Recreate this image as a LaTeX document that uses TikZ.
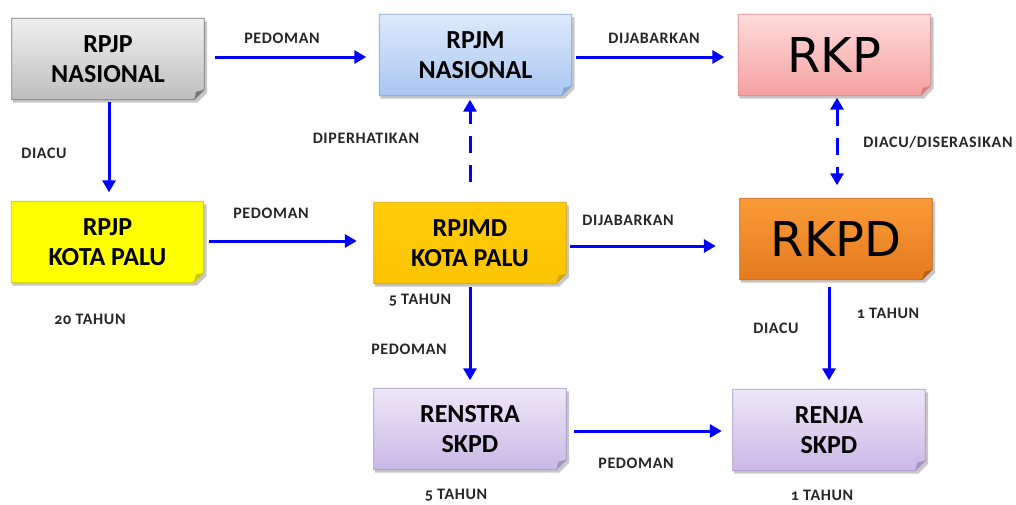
\documentclass[tikz,border=0pt]{standalone}
\usepackage{fontspec}
\setmainfont{Carlito}[Numbers=OldStyle]
\newfontfamily\bigfont{DejaVu Sans}
\usetikzlibrary{arrows.meta,backgrounds}
\definecolor{grayT}{RGB}{240,240,240}
\definecolor{grayB}{RGB}{190,190,190}
\definecolor{grayD}{RGB}{120,120,120}
\definecolor{blueT}{RGB}{222,234,252}
\definecolor{blueB}{RGB}{168,198,240}
\definecolor{blueD}{RGB}{130,165,215}
\definecolor{pinkT}{RGB}{255,220,220}
\definecolor{pinkB}{RGB}{245,160,160}
\definecolor{pinkD}{RGB}{215,130,130}
\definecolor{yelD}{RGB}{200,200,0}
\definecolor{goldT}{RGB}{255,204,10}
\definecolor{goldB}{RGB}{252,196,0}
\definecolor{goldD}{RGB}{215,165,0}
\definecolor{oraT}{RGB}{250,155,55}
\definecolor{oraB}{RGB}{228,122,30}
\definecolor{oraD}{RGB}{190,95,20}
\definecolor{purT}{RGB}{238,231,248}
\definecolor{purB}{RGB}{202,184,230}
\definecolor{purD}{RGB}{165,145,200}
\tikzset{
  boxtext/.style={minimum width=192pt,minimum height=81pt,inner sep=0pt,align=center,
    font=\fontsize{26}{30}\selectfont\bfseries},
  bigtext/.style={minimum width=192pt,minimum height=81pt,inner sep=0pt,align=center,
    font=\bigfont\fontsize{48}{55}\selectfont},
  lbl/.style={font=\addfontfeatures{LetterSpace=4}\fontsize{16}{18}\selectfont\bfseries,text=black!85,inner sep=0pt},
  arr/.style={draw=blue,line width=3pt,-{Triangle[length=12pt,width=13pt]}},
  darr/.style={arr,dash pattern=on 17pt off 12pt}
}
\newcommand\notebox[4]{%
  \begin{pgfonlayer}{background}
  \fill[black,opacity=0.22] ([shift={(1pt,-3pt)}]#1.north west) -- ([shift={(3pt,-3pt)}]#1.north east)
     -- ([shift={(3pt,7pt)}]#1.south east) -- ([shift={(-7pt,-3pt)}]#1.south east)
     -- ([shift={(1pt,-3pt)}]#1.south west) -- cycle;
  \shade[top color=#2,bottom color=#3] (#1.north west) -- (#1.north east)
     -- ([yshift=10pt]#1.south east) -- ([xshift=-10pt]#1.south east) -- (#1.south west) -- cycle;
  \draw[#4,line width=0.8pt] (#1.north west) -- (#1.north east)
     -- ([yshift=10pt]#1.south east) -- ([xshift=-10pt]#1.south east) -- (#1.south west) -- cycle;
  \fill[#4] ([yshift=10pt]#1.south east) -- ([xshift=-10pt]#1.south east) -- ([shift={(-8pt,8pt)}]#1.south east) -- cycle;
  \end{pgfonlayer}}
\begin{document}
\begin{tikzpicture}[x=1pt,y=-1pt]
\useasboundingbox (0,0) rectangle (1016,504);
% boxes
\node[boxtext] (rpjpn) at (108,59) {RPJP\\NASIONAL};
\node[boxtext] (rpjmn) at (475.5,55) {RPJM\\NASIONAL};
\node[bigtext] (rkp) at (834.5,55) {RKP};
\node[boxtext] (rpjpk) at (107.5,242) {RPJP\\KOTA PALU};
\node[boxtext] (rpjmd) at (470,243) {RPJMD\\KOTA PALU};
\node[bigtext] (rkpd) at (836,239) {RKPD};
\node[boxtext] (renstra) at (470,429) {RENSTRA\\SKPD};
\node[boxtext] (renja) at (829,430) {RENJA\\SKPD};
\notebox{rpjpn}{grayT}{grayB}{grayD}
\notebox{rpjmn}{blueT}{blueB}{blueD}
\notebox{rkp}{pinkT}{pinkB}{pinkD}
\notebox{rpjpk}{yellow}{yellow}{yelD}
\notebox{rpjmd}{goldT}{goldB}{goldD}
\notebox{rkpd}{oraT}{oraB}{oraD}
\notebox{renstra}{purT}{purB}{purD}
\notebox{renja}{purT}{purB}{purD}
% arrows
\draw[arr,shorten <=11pt,shorten >=13pt] ([yshift=2pt]rpjpn.east) -- ([yshift=-2pt]rpjmn.west);
\draw[arr,shorten <=4pt,shorten >=14pt] ([yshift=-2pt]rpjmn.east) -- ([yshift=-2pt]rkp.west);
\draw[arr,shorten <=2pt,shorten >=9pt] ([xshift=1pt]rpjpn.south) -- ([xshift=1.5pt]rpjpk.north);
\draw[arr,shorten <=5pt,shorten >=17pt] ([yshift=1pt]rpjpk.east) -- ([yshift=2pt]rpjmd.west);
\draw[darr,shorten <=20pt,shorten >=4pt] (rpjmd.north) -- (rpjmd.north |- rpjmn.south);
\draw[arr,shorten <=4pt,shorten >=24pt] ([yshift=-3pt]rpjmd.east) -- ([yshift=-7pt]rkpd.west);
\draw[darr,{Triangle[length=12pt,width=13pt]}-{Triangle[length=12pt,width=13pt]},shorten <=2pt,shorten >=13pt] ([xshift=2.5pt]rkp.south) -- ([xshift=1pt]rkpd.north);
\draw[arr,shorten <=7pt,shorten >=9pt] (renja.north |- rkpd.south) -- (renja.north);
\draw[arr,shorten <=3pt,shorten >=8pt] (rpjmd.south) -- (renstra.north);
\draw[arr,shorten <=8pt,shorten >=11pt] ([yshift=-2pt]renstra.east) -- ([yshift=-1pt]renja.west);
% labels
\node[lbl] (l1) at (282,38) {PEDOMAN};
\node[lbl] (l2) at (654,38) {DIJABARKAN};
\node[lbl] (l3) at (44,153) {DIACU};
\node[lbl] (l4) at (271,213) {PEDOMAN};
\node[lbl] (l5) at (366,138) {DIPERHATIKAN};
\node[lbl] (l6) at (628,220) {DIJABARKAN};
\node[lbl] (l7) at (938,142) {DIACU/DISERASIKAN};
\node[lbl] (l8) at (90,319) {20 TAHUN};
\node[lbl] (l9) at (420,300) {5 TAHUN};
\node[lbl] (l10) at (409,349) {PEDOMAN};
\node[lbl] (l11) at (776,328) {DIACU};
\node[lbl] (l12) at (888,313) {1 TAHUN};
\node[lbl] (l13) at (636,463) {PEDOMAN};
\node[lbl] (l14) at (456,495) {5 TAHUN};
\node[lbl] (l15) at (822,495) {1 TAHUN};
\end{tikzpicture}
\end{document}
